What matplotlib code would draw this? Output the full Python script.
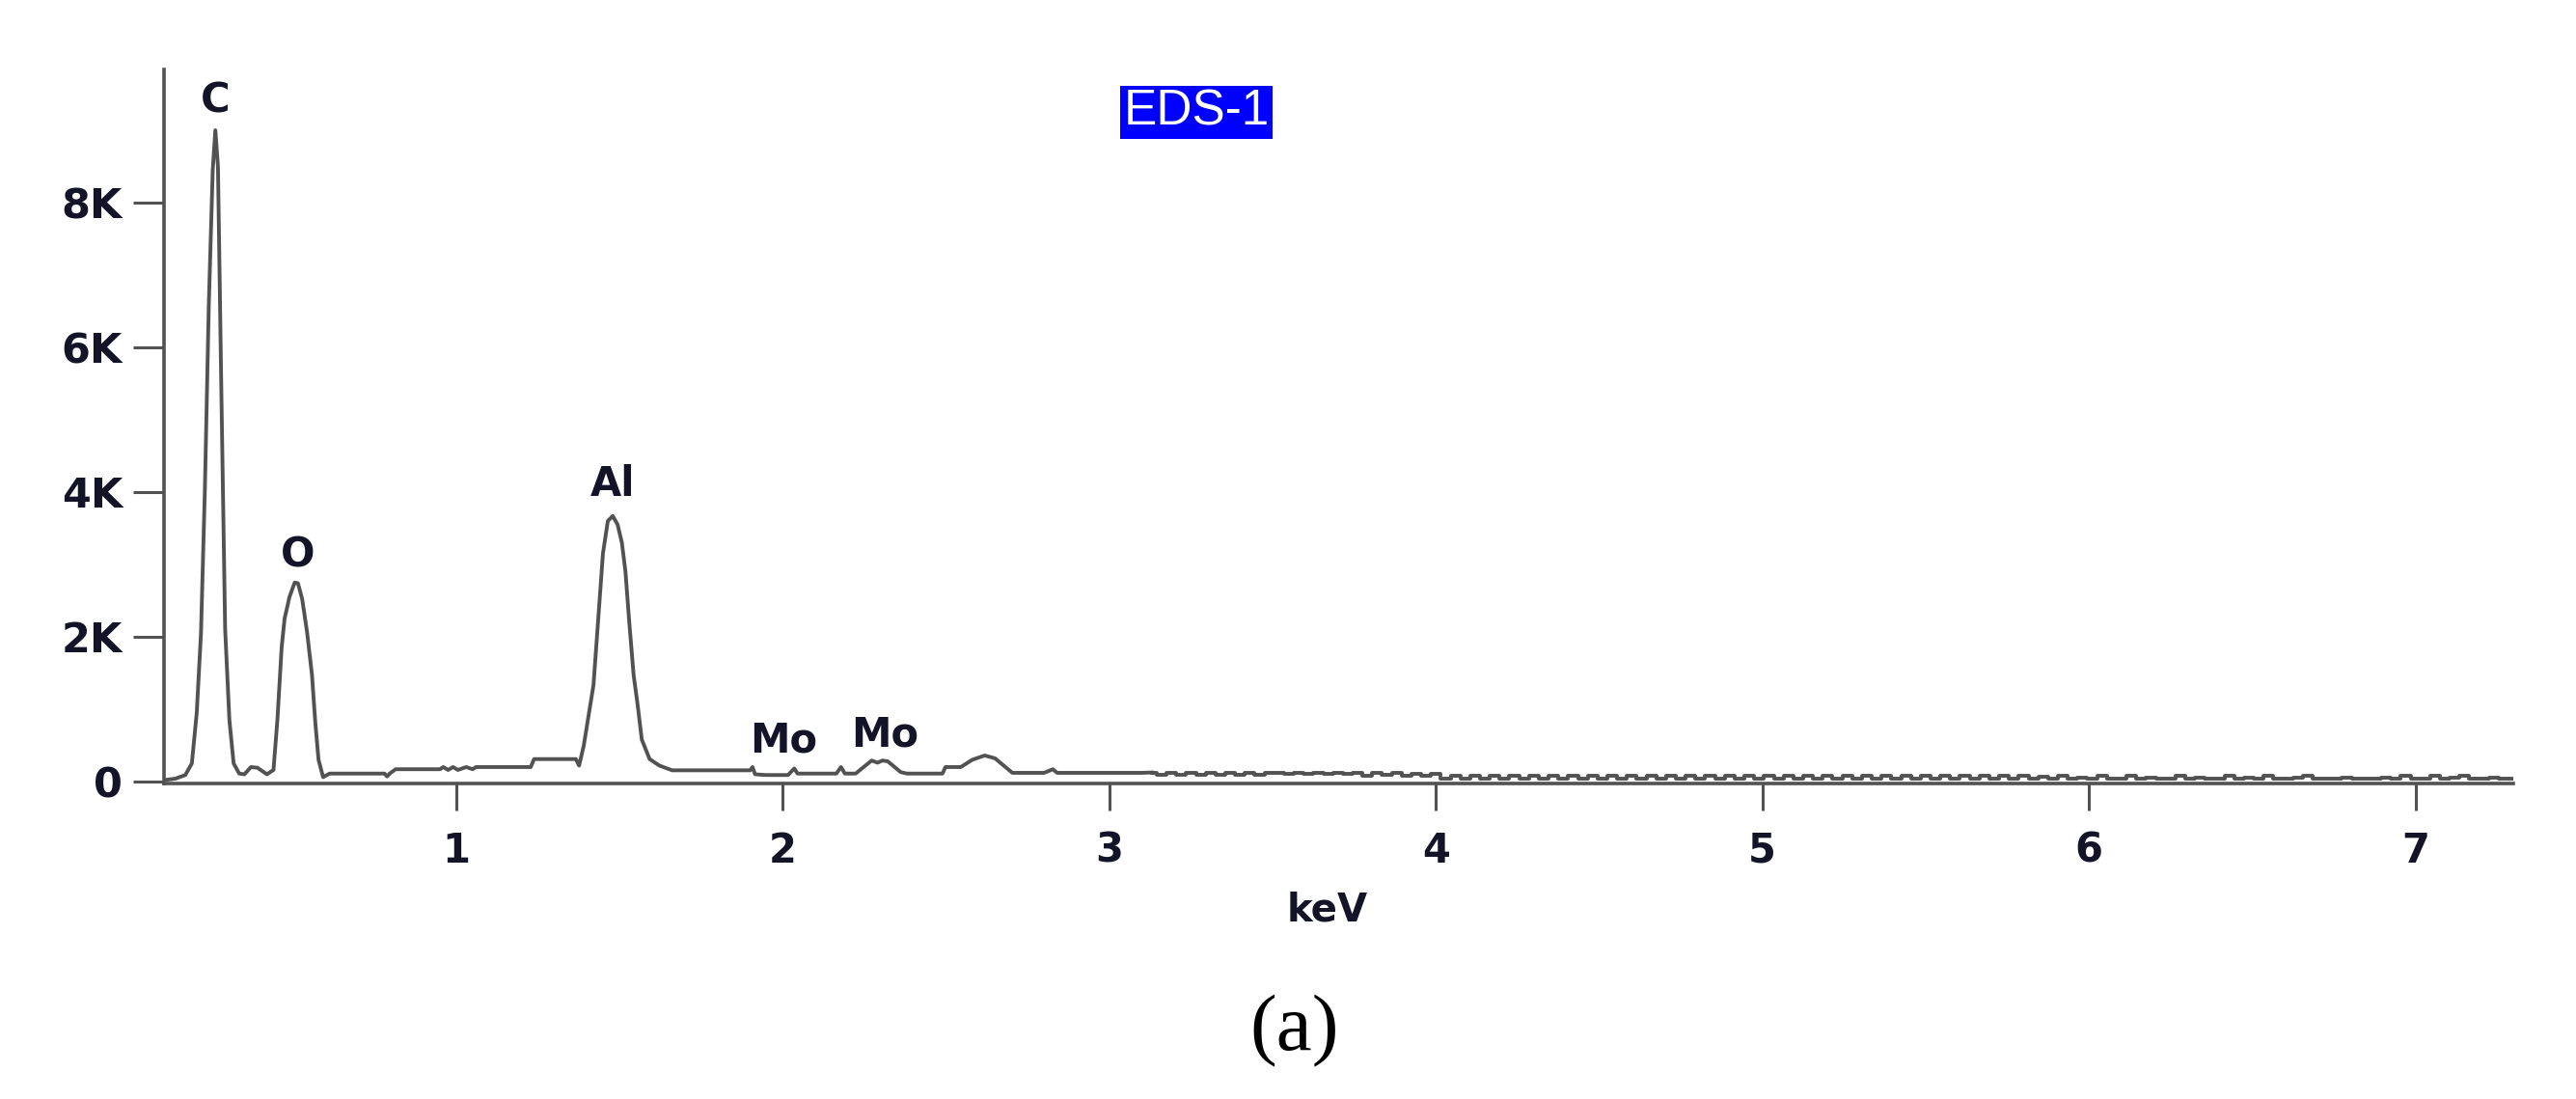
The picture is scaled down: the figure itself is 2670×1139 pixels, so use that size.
import numpy as np
import matplotlib
matplotlib.use('Agg')
import matplotlib.pyplot as plt

# ── spectrum (keV, counts) ────────────────────────────────────────────────────
PEAK_KEV = [
    0.105, 0.14, 0.17, 0.19, 0.205, 0.218, 0.230, 0.242, 0.254, 0.262, 0.270,
    0.280, 0.292, 0.305, 0.318, 0.335, 0.351, 0.371, 0.391, 0.420, 0.440,
    0.452, 0.465, 0.474, 0.489, 0.505, 0.515, 0.528, 0.543, 0.558, 0.568,
    0.578, 0.592, 0.612, 0.780, 0.788, 0.796, 0.814, 0.950, 0.960, 0.975,
    0.990, 1.005, 1.030, 1.050, 1.060, 1.120, 1.228, 1.238, 1.366, 1.376,
    1.390, 1.405, 1.420, 1.435, 1.449, 1.464, 1.479, 1.494, 1.507, 1.518,
    1.530, 1.543, 1.555, 1.568, 1.592, 1.622, 1.661, 1.900, 1.907, 1.915,
    1.947, 2.016, 2.035, 2.045, 2.164, 2.178, 2.190, 2.223, 2.242, 2.272,
    2.290, 2.305, 2.321, 2.361, 2.380, 2.489, 2.498, 2.545, 2.580, 2.618,
    2.650, 2.703, 2.800, 2.827, 2.840, 3.100,
]
PEAK_COUNTS = [
    20, 40, 90, 250, 950, 2050, 4050, 6600, 8450, 9000, 8500,
    5500, 2100, 850, 250, 110, 100, 200, 190, 100, 160,
    850, 1850, 2250, 2550, 2750, 2740, 2520, 2060, 1470, 820,
    300, 60, 110, 110, 70, 110, 170, 170, 200, 160,
    200, 160, 200, 170, 200, 200, 200, 310, 310, 220,
    490, 910, 1330, 2270, 3150, 3600, 3670, 3550, 3300, 2900,
    2180, 1470, 1070, 580, 310, 220, 155, 155, 200, 100,
    90, 90, 180, 110, 110, 200, 110, 110, 180, 290,
    260, 290, 280, 130, 110, 110, 200, 200, 300, 360,
    320, 120, 120, 170, 120, 120,
]

# noisy tail, one value per 0.03 keV channel starting at 3.13 keV
TAIL_START = 3.13
TAIL_STEP = 0.03
TAIL_COUNTS = [
    125, 90, 120, 95, 125, 90, 120, 95, 125, 90, 120, 90, 120,
    120, 105, 120, 105, 120, 105, 120,
    100, 120, 85, 115, 90, 115, 80, 110, 85, 100,
    40, 75, 35, 80, 40, 75, 35, 75, 40, 80, 35, 75, 40, 75, 35, 80, 40, 75, 35, 75,
    40, 75, 35, 80, 40, 75, 35, 80, 40, 75, 40, 75, 35, 80, 40, 75, 35, 75, 40, 80,
    35, 75, 40, 75, 35, 80, 40, 75, 35, 75, 40, 80, 40, 75, 35, 75, 40, 75, 35, 80,
    45, 60, 40, 85, 45, 55, 40, 80, 45, 40, 85, 45, 55, 40, 45, 80, 40, 55, 45, 40,
    80, 45, 55, 40, 85, 45, 40, 55, 80, 45, 40, 45, 55, 40, 45, 40, 55, 45, 75, 45,
    40, 85, 45, 55, 80, 40, 45, 55, 40, 45,
]

ELEMENTS = ['C', 'O', 'Al', 'Mo', 'Mo']
ELEM_KEV = [0.262, 0.513, 1.479, 2.001, 2.311]
ELEM_Y = [9400, 3130, 4100, 560, 645]

X_TICKS = [1, 2, 3, 4, 5, 6, 7]
Y_TICKS = [0, 2000, 4000, 6000, 8000]
Y_TICK_LABELS = ['0', '2K', '4K', '6K', '8K']

GREY = '#525252'
INK = '#141428'

tail_kev = TAIL_START + TAIL_STEP * np.arange(len(TAIL_COUNTS))

fig = plt.figure(figsize=(26.7, 11.39), dpi=100)
ax = fig.add_axes([0.0637, 0.2871, 0.912, 0.6497])

ax.plot(PEAK_KEV + [tail_kev[0]], PEAK_COUNTS + [TAIL_COUNTS[0]],
        color=GREY, linewidth=2.8)
ax.plot(tail_kev, TAIL_COUNTS, color=GREY, linewidth=2.8, drawstyle='steps-mid')

ax.set_xlim(0.105, 7.30)
ax.set_ylim(-27, 9840)

for side in ['top', 'right']:
    ax.spines[side].set_visible(False)
for side in ['left', 'bottom']:
    ax.spines[side].set_color(GREY)
    ax.spines[side].set_linewidth(2.6)

ax.set_xticks(X_TICKS)
ax.set_xticklabels([str(t) for t in X_TICKS])
ax.set_yticks(Y_TICKS)
ax.set_yticklabels(Y_TICK_LABELS)
ax.tick_params(axis='y', direction='out', length=23, width=2.2, color=GREY,
               pad=8, labelsize=31, labelcolor=INK)
ax.tick_params(axis='x', direction='out', length=20, width=2.2, color=GREY,
               pad=15, labelsize=30, labelcolor=INK)
for lab in ax.get_xticklabels() + ax.get_yticklabels():
    lab.set_fontweight('bold')

# element markers above the peaks
for name, x, y in zip(ELEMENTS, ELEM_KEV, ELEM_Y):
    ax.text(x, y, name, ha='center', va='center', fontsize=30,
            fontweight='bold', color=INK)

fig.text(0.4644, 0.898, 'EDS-1', ha='center', va='center', fontsize=37,
         family='Liberation Sans', color='white',
         bbox=dict(boxstyle='square,pad=0.06', fc='#0000ff', ec='none'))

fig.text(0.5154, 0.172, 'keV', ha='center', va='center', fontsize=29,
         fontweight='bold', color=INK)
fig.text(0.5026, 0.062, '(a)', ha='center', va='center', fontsize=60,
         family='Liberation Serif', color='black')

fig.savefig('out.png', dpi=100)
